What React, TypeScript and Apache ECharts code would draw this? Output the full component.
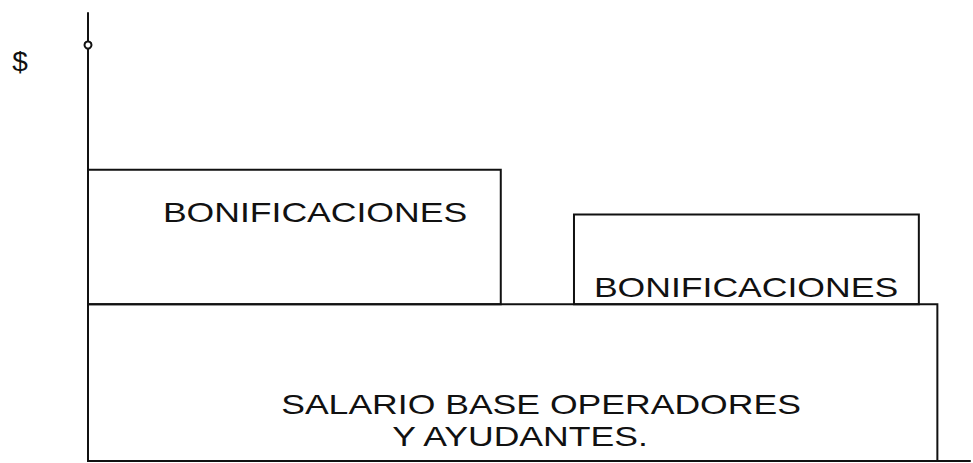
import React, { useEffect, useRef } from "react";
import * as echarts from "echarts";

// Blocks of the diagram: [x start, x end] along the horizontal scale, [low, high] in $ units
const blockNames = ["SALARIO BASE", "BONIFICACIONES 1", "BONIFICACIONES 2"];
const blockStart = [0, 0, 55.1];
const blockEnd = [96.3, 46.8, 94.2];
const blockLow = [0, 35, 35];
const blockHigh = [35, 65, 55];

const yAxisName = "$";
const labelBonus = "BONIFICACIONES";
const labelBase1 = "SALARIO BASE OPERADORES";
const labelBase2 = "Y AYUDANTES.";

const INK = "#111111";
const FONT = "'Liberation Sans', Arial, sans-serif";

export default function App() {
  const ref = useRef<HTMLDivElement>(null);

  useEffect(() => {
    if (!ref.current) return;
    const chart = echarts.init(ref.current, null, { renderer: "svg" });
    const data = blockNames.map((n, i) => ({
      name: n,
      value: [blockStart[i], blockEnd[i], blockLow[i], blockHigh[i]],
    }));
    const textStyle = (t: string) => ({
      text: t,
      fill: INK,
      font: `normal 28px ${FONT}`,
      textAlign: "center",
      textVerticalAlign: "middle",
    });
    chart.setOption({
      animation: false,
      backgroundColor: "#ffffff",
      grid: { left: 88, right: 3, top: 13, bottom: 2 },
      xAxis: {
        type: "value",
        min: 0,
        max: 100,
        axisLine: { show: true, onZero: false, lineStyle: { color: INK, width: 2 } },
        axisTick: { show: false },
        axisLabel: { show: false },
        splitLine: { show: false },
      },
      yAxis: {
        type: "value",
        min: 0,
        max: 100,
        axisLine: {
          show: true,
          onZero: false,
          lineStyle: { color: INK, width: 2 },
          symbol: ["none", "emptyCircle"],
          symbolSize: [7, 10],
          symbolOffset: [0, -32],
        },
        axisTick: { show: false },
        axisLabel: { show: false },
        splitLine: { show: false },
      },
      series: [
        {
          type: "custom",
          data,
          encode: { x: [0, 1], y: [2, 3] },
          renderItem: (params: any, api: any) => {
            const p0 = api.coord([api.value(0), api.value(3)]);
            const p1 = api.coord([api.value(1), api.value(2)]);
            return {
              type: "rect",
              shape: { x: p0[0], y: p0[1], width: p1[0] - p0[0], height: p1[1] - p0[1] },
              style: { fill: "none", stroke: INK, lineWidth: 2 },
            };
          },
        },
      ],
      graphic: [
        { type: "text", x: 20, y: 61, style: textStyle(yAxisName) },
        { type: "text", x: 315, y: 212, scaleX: 1.27, style: textStyle(labelBonus) },
        { type: "text", x: 746, y: 287, scaleX: 1.27, style: textStyle(labelBonus) },
        { type: "text", x: 541, y: 404, scaleX: 1.27, style: textStyle(labelBase1) },
        { type: "text", x: 520, y: 436, scaleX: 1.27, style: textStyle(labelBase2) },
      ],
    });
    return () => chart.dispose();
  }, []);

  return (
    <div
      ref={ref}
      style={{ position: "fixed", left: 0, top: 0, width: 973, height: 463, background: "#fff" }}
    />
  );
}
